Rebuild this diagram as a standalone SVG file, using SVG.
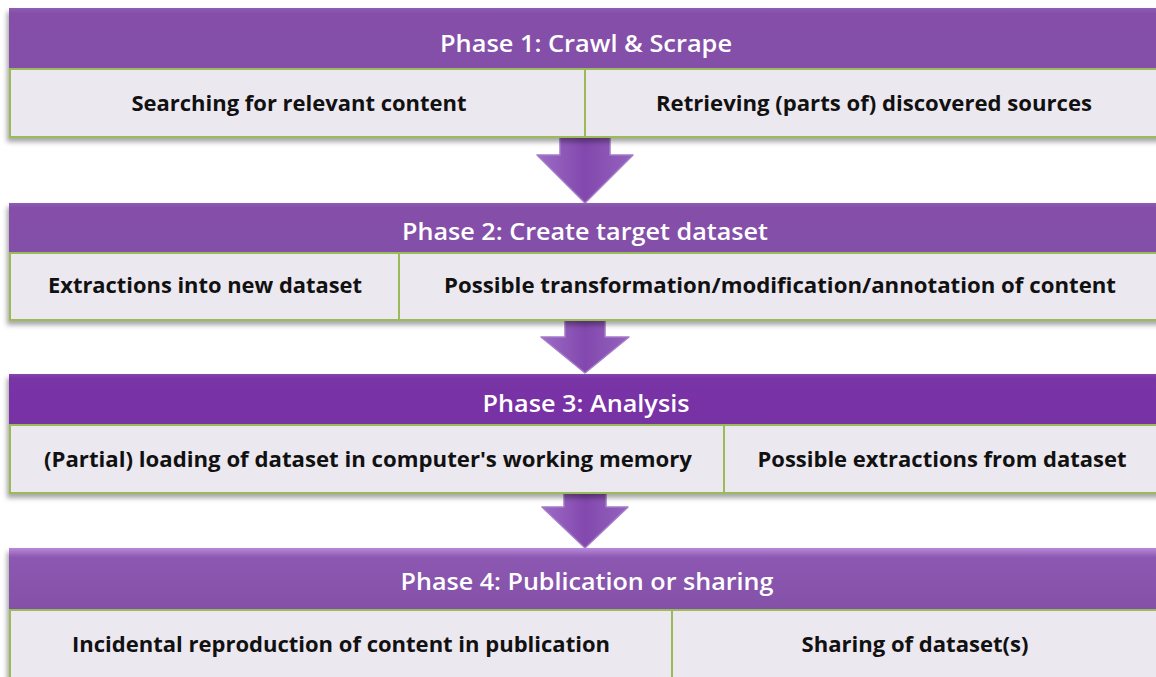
<svg xmlns="http://www.w3.org/2000/svg" width="1156" height="677" viewBox="0 0 1156 677">
<defs>
<style>
.hdr{font-family:"Open Sans","Liberation Sans",Arial,sans-serif;font-size:23.5px;font-weight:600;fill:#ffffff;text-anchor:middle}
.sub{font-family:"Open Sans","Liberation Sans",Arial,sans-serif;font-size:20.5px;font-weight:bold;fill:#111111;text-anchor:middle}
.cell{fill:#ECE8F0;stroke:#9BBB59;stroke-width:2}
.arrow{fill:url(#arrowGrad);stroke:#A47BC8;stroke-width:1.5;stroke-linejoin:round}
</style>
<linearGradient id="hdrGrad" x1="0" y1="0" x2="0" y2="1">
<stop offset="0" stop-color="#8E5EB2"/>
<stop offset="0.08" stop-color="#8550A9"/>
<stop offset="1" stop-color="#8450A8"/>
</linearGradient>
<linearGradient id="hdrGrad3" x1="0" y1="0" x2="0" y2="1">
<stop offset="0" stop-color="#8447AD"/>
<stop offset="0.08" stop-color="#7934A6"/>
<stop offset="1" stop-color="#7732A4"/>
</linearGradient>
<linearGradient id="hdrGrad4" x1="0" y1="0" x2="0" y2="1">
<stop offset="0" stop-color="#B888D8"/>
<stop offset="0.15" stop-color="#8C58B1"/>
<stop offset="1" stop-color="#8450A8"/>
</linearGradient>
<linearGradient id="arrowGrad" x1="0" y1="0" x2="1" y2="0">
<stop offset="0" stop-color="#9D6CC5"/>
<stop offset="0.5" stop-color="#8348AE"/>
<stop offset="1" stop-color="#9463BE"/>
</linearGradient>
<filter id="shadow" x="-5%" y="-30%" width="110%" height="170%">
<feDropShadow dx="-2" dy="4" stdDeviation="2.5" flood-color="#000000" flood-opacity="0.35"/>
</filter>
</defs>
<rect x="0" y="0" width="1156" height="677" fill="#ffffff"/>

<g id="connectors">
<path class="arrow" d="M560,137 L610,137 L610,155 L633,155 L585,203 L537,155 L560,155 Z"/>
<path class="arrow" d="M565,320 L605,320 L605,337 L629,337 L585,373 L541,337 L565,337 Z"/>
<path class="arrow" d="M564,493 L606,493 L606,507 L628,507 L585,548 L542,507 L564,507 Z"/>
</g>

<g id="phase1">
<g filter="url(#shadow)">
<rect x="9" y="8" width="1160" height="61" fill="url(#hdrGrad)"/>
<rect class="cell" x="10" y="69" width="575" height="68"/>
<rect class="cell" x="585" y="69" width="580" height="68"/>
</g>
<text class="hdr" x="586" y="52" textLength="292" lengthAdjust="spacingAndGlyphs">Phase 1: Crawl &amp; Scrape</text>
<g id="p1-search"><text class="sub" x="299" y="111" textLength="335" lengthAdjust="spacingAndGlyphs">Searching for relevant content</text></g>
<g id="p1-retrieve"><text class="sub" x="874" y="111" textLength="436" lengthAdjust="spacingAndGlyphs">Retrieving (parts of) discovered sources</text></g>
</g>

<g id="phase2">
<g filter="url(#shadow)">
<rect x="9" y="203" width="1160" height="50" fill="url(#hdrGrad)"/>
<rect class="cell" x="10" y="253" width="389" height="67"/>
<rect class="cell" x="399" y="253" width="766" height="67"/>
</g>
<text class="hdr" x="585" y="240" textLength="366" lengthAdjust="spacingAndGlyphs">Phase 2: Create target dataset</text>
<g id="p2-extract"><text class="sub" x="205" y="293" textLength="314" lengthAdjust="spacingAndGlyphs">Extractions into new dataset</text></g>
<g id="p2-transform"><text class="sub" x="780" y="293" textLength="672" lengthAdjust="spacingAndGlyphs">Possible transformation/modification/annotation  of content</text></g>
</g>

<g id="phase3">
<g filter="url(#shadow)">
<rect x="9" y="374" width="1160" height="51" fill="url(#hdrGrad3)"/>
<rect class="cell" x="10" y="425" width="714" height="68"/>
<rect class="cell" x="724" y="425" width="441" height="68"/>
</g>
<text class="hdr" x="586" y="412" textLength="207" lengthAdjust="spacingAndGlyphs">Phase 3: Analysis</text>
<g id="p3-loading"><text class="sub" x="368" y="467" textLength="648" lengthAdjust="spacingAndGlyphs">(Partial) loading of dataset in computer's working memory</text></g>
<g id="p3-extract"><text class="sub" x="942" y="467" textLength="369" lengthAdjust="spacingAndGlyphs">Possible extractions from dataset</text></g>
</g>

<g id="phase4">
<g filter="url(#shadow)">
<rect x="9" y="548" width="1160" height="62" fill="url(#hdrGrad4)"/>
<rect class="cell" x="10" y="610" width="662" height="80"/>
<rect class="cell" x="672" y="610" width="493" height="80"/>
</g>
<text class="hdr" x="587" y="590" textLength="373" lengthAdjust="spacingAndGlyphs">Phase 4: Publication or sharing</text>
<g id="p4-reproduction"><text class="sub" x="341" y="652" textLength="538" lengthAdjust="spacingAndGlyphs">Incidental reproduction of content in publication</text></g>
<g id="p4-sharing"><text class="sub" x="915" y="652" textLength="227" lengthAdjust="spacingAndGlyphs">Sharing of dataset(s)</text></g>
</g>
</svg>
